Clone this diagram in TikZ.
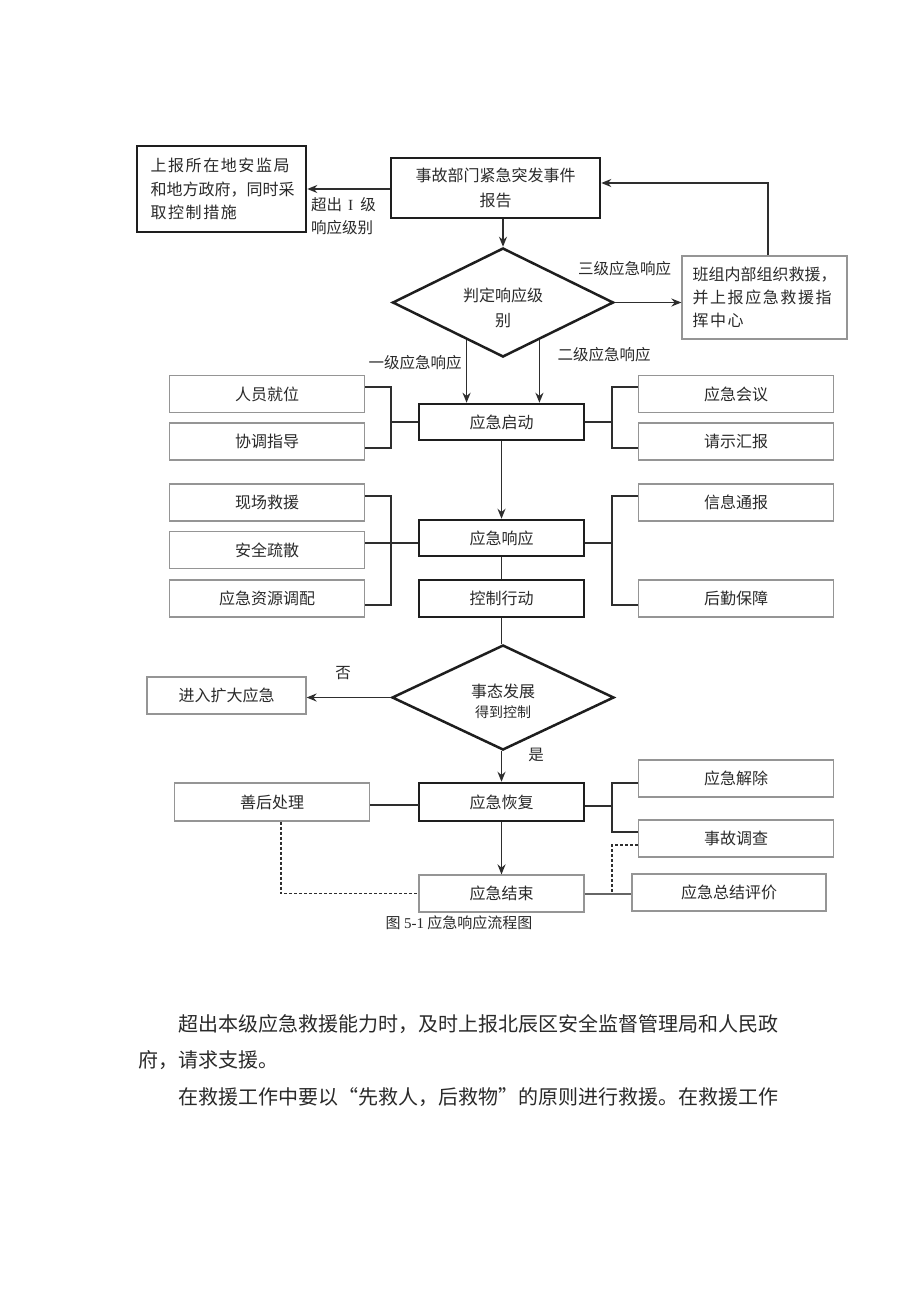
\documentclass[tikz,border=0pt]{standalone}
\usepackage{fontspec}
\setmainfont{Noto Sans CJK SC}
\newfontfamily\cjkwide[LetterSpace=10]{Noto Sans CJK SC}
\newfontfamily\cjknorm{Noto Sans CJK SC}
\newfontfamily\romanfont{Liberation Serif}
\usetikzlibrary{shapes.geometric,arrows.meta,calc}
\definecolor{txt}{HTML}{2A2A2A}
\definecolor{edge}{HTML}{1E1E1E}
\definecolor{thin}{HTML}{959595}
\definecolor{bline}{HTML}{2E2E2E}
\begin{document}
\begin{tikzpicture}[x=1pt,y=-1pt,
  every node/.style={text=txt, font=\fontsize{16}{20}\selectfont},
  thickbox/.style={draw=edge, line width=2.5pt, inner sep=0pt, align=center},
  thinbox/.style={draw=thin, line width=1.2pt, inner sep=0pt, align=center},
  dmd/.style={diamond, draw=edge, line width=2.5pt, inner sep=0pt},
  conn/.style={draw=bline, line width=1.8pt},
  arr/.style={conn, -{Stealth[length=10pt,width=8pt]}},
  dsh/.style={draw=bline, line width=1.4pt, dash pattern=on 3pt off 2pt},
  lbl/.style={inner sep=0pt, font=\fontsize{15.5}{23}\selectfont},
  sidebox/.style={thinbox, minimum width=195pt, minimum height=37pt},
  midbox/.style={thickbox, minimum width=165pt, minimum height=36pt}
]
\fill[white] (0,0) rectangle (920,1301);
\useasboundingbox (0,0) rectangle (920,1301);

% top
\node[thickbox, minimum width=169pt, minimum height=86pt, text width=142pt, align=left,
      font=\cjkwide\fontsize{16}{23.5}\selectfont] (A) at (221.5,189) {上报所在地安监局\\{\cjknorm 和地方政府，同时采}\\取控制措施};
\node[thickbox, minimum width=209pt, minimum height=60pt, font=\fontsize{16}{25}\selectfont] (B) at (495.5,188) {事故部门紧急突发事件\\报告};
\node[lbl, align=left, anchor=west] (L1) at (311,216.5) {超出\hspace{6pt}{\romanfont I}\hspace{7pt}级\\响应级别};
\draw[arr] (B.west |- A.east) -- (A.east);

% decision 1
\node[dmd, minimum width=221pt, minimum height=109pt] (J1) at (503,302.5) {};
\node[inner sep=0pt, align=center, font=\fontsize{16}{25}\selectfont] (J1t) at (503,307.5) {判定响应级\\别};
\draw[arr] (B.south -| J1.north) -- (J1.north);

\node[thinbox, minimum width=165pt, minimum height=83pt, text width=144pt, align=left,
      font=\cjkwide\fontsize{16}{23}\selectfont] (C) at (764.5,297.5) {{\cjknorm 班组内部组织救援，}\\并上报应急救援指\\挥中心};
\draw[arr] (J1.east) -- (J1.east -| C.west);
\node[lbl] (L3) at (624.5,269) {三级应急响应};
\coordinate (cup) at (768,183);
\draw[arr] (C.north -| cup) -- (cup) -- (cup -| B.east);

% start
\node[midbox] (D) at (501.5,422) {应急启动};
\coordinate (p1) at ($(J1.west)!0.674!(J1.south)$);
\coordinate (p2) at ($(J1.east)!0.674!(J1.south)$);
\draw[arr] (p1) -- (p1 |- D.north);
\draw[arr] (p2) -- (p2 |- D.north);
\node[lbl] (L4) at (415,363) {一级应急响应};
\node[lbl] (L5) at (604,355) {二级应急响应};

\node[sidebox] (s1) at (267,394) {人员就位};
\node[sidebox] (s2) at (267,441.5) {协调指导};
\node[sidebox] (s3) at (736,394) {应急会议};
\node[sidebox] (s4) at (736,441.5) {请示汇报};
\coordinate (bl1) at (391,387);
\coordinate (bl2) at (391,448);
\coordinate (br1) at (612,387);
\coordinate (br2) at (612,448);
\draw[conn] (s1.east |- bl1) -- (bl1) -- (bl2) -- (s2.east |- bl2);
\draw[conn] (bl1 |- D.west) -- (D.west);
\draw[conn] (s3.west |- br1) -- (br1) -- (br2) -- (s4.west |- br2);
\draw[conn] (br1 |- D.east) -- (D.east);

% response
\node[midbox] (E) at (501.5,538) {应急响应};
\draw[arr] (D.south) -- (E.north);
\node[midbox, minimum height=37pt] (F) at (501.5,598.5) {控制行动};
\draw[conn] (E.south) -- (F.north);

\node[sidebox] (s5) at (267,502.5) {现场救援};
\node[sidebox] (s6) at (267,550) {安全疏散};
\node[sidebox] (s7) at (267,598.5) {应急资源调配};
\node[sidebox] (s8) at (736,502.5) {信息通报};
\node[sidebox] (s9) at (736,598.5) {后勤保障};
\coordinate (bl3) at (391,496);
\coordinate (bl4) at (391,605);
\coordinate (bm) at (391,543);
\coordinate (br3) at (612,496);
\coordinate (br4) at (612,605);
\coordinate (brm) at (612,543);
\draw[conn] (s5.east |- bl3) -- (bl3) -- (bl4) -- (s7.east |- bl4);
\draw[conn] (s6.east |- bm) -- (E.west |- bm);
\draw[conn] (s8.west |- br3) -- (br3) -- (br4) -- (s9.west |- br4);
\draw[conn] (E.east |- brm) -- (brm);

% decision 2
\node[dmd, minimum width=222pt, minimum height=105pt] (J2) at (503,697.5) {};
\node[inner sep=0pt, font=\fontsize{16}{20}\selectfont] (J2a) at (503,691) {事态发展};
\node[inner sep=0pt, font=\fontsize{14}{18}\selectfont] (J2b) at (503,712) {得到控制};
\draw[conn] (F.south) -- (F.south |- J2.north);
\node[thinbox, minimum width=159pt, minimum height=37pt] (G) at (226.5,695.5) {进入扩大应急};
\draw[arr] (J2.west) -- (J2.west -| G.east);
\node[lbl] (Lno) at (343,673) {否};
\node[lbl] (Lyes) at (536,755) {是};

% recovery
\node[midbox, minimum height=38pt] (H) at (501.5,802) {应急恢复};
\draw[arr] (J2.south -| H.north) -- (H.north);
\node[sidebox, minimum height=38pt] (I) at (272,802) {善后处理};
\coordinate (hm) at (419,805);
\draw[conn] (I.east |- hm) -- (hm);
\node[sidebox] (s10) at (736,778.5) {应急解除};
\node[sidebox] (s11) at (736,838.5) {事故调查};
\coordinate (br5) at (612,783);
\coordinate (br6) at (612,832);
\coordinate (br7) at (612,806);
\draw[conn] (s10.west |- br5) -- (br5) -- (br6) -- (s11.west |- br6);
\draw[conn] (H.east |- br7) -- (br7);

% end
\node[thinbox, minimum width=165pt, minimum height=37pt] (Jend) at (501.5,893.5) {应急结束};
\draw[arr] (H.south) -- (Jend.north);
\node[sidebox, minimum width=194pt] (K) at (729,892.5) {应急总结评价};
\draw[draw=black!60, line width=2pt] (Jend.east) -- (Jend.east -| K.west);
\coordinate (dl) at (281,893.5);
\draw[dsh] (I.south -| dl) -- (dl) -- (Jend.west);
\coordinate (dr1) at (612,845);
\coordinate (dr2) at (612,893.5);
\draw[dsh] (s11.west |- dr1) -- (dr1) -- (dr2);

% caption
\node[inner sep=0pt, font=\fontsize{15}{18}\selectfont] (cap) at (459,923) {图 {\romanfont 5-1} 应急响应流程图};

% body text
\node[inner sep=0pt, anchor=west, font=\fontsize{20}{24}\selectfont] (t1) at (178,1024) {超出本级应急救援能力时，及时上报北辰区安全监督管理局和人民政};
\node[inner sep=0pt, anchor=west, font=\fontsize{20}{24}\selectfont] (t2) at (138,1060) {府，请求支援。};
\node[inner sep=0pt, anchor=west, font=\fontsize{20}{24}\selectfont] (t3) at (178,1097) {在救援工作中要以“先救人，后救物”的原则进行救援。在救援工作};
\end{tikzpicture}
\end{document}
